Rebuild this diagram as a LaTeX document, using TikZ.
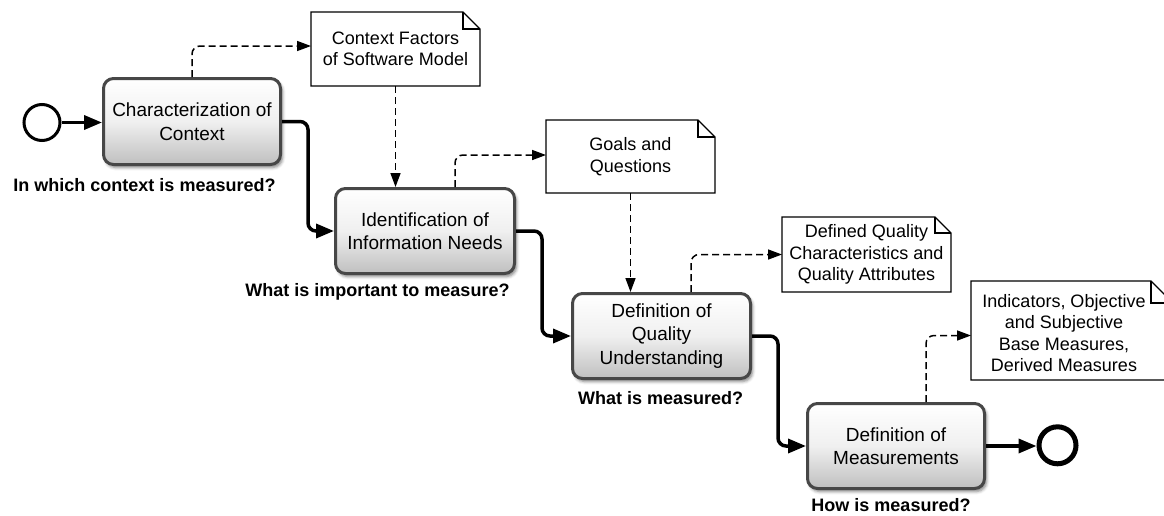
\documentclass[tikz,border=0pt]{standalone}
\usepackage{fontspec}
\setmainfont{Liberation Sans}
\usetikzlibrary{arrows.meta,shadows.blur}

\begin{document}
\begin{tikzpicture}[x=1pt,y=-1pt,
  task/.style={draw=black!72, line width=3pt, rounded corners=10pt,
    top color=white, bottom color=black!25, middle color=white!94!black,
    inner sep=2pt, align=center, text=black,
    font=\fontsize{19}{23.5}\selectfont,
    blur shadow={shadow xshift=2pt, shadow yshift=-3pt,
      shadow blur radius=3pt, shadow opacity=50}},
  note/.style={fill=white, inner sep=0pt, outer sep=0pt, align=center,
    font=\fontsize{18}{21.5}\selectfont},
  notetext/.style={inner sep=0pt, align=center, font=\fontsize{18}{21.5}\selectfont},
  noteline/.style={line width=1.2pt, line join=miter},
  startev/.style={circle, draw, line width=3pt, minimum size=36pt, inner sep=0pt, fill=white},
  endev/.style={circle, draw, line width=5pt, minimum size=37pt, inner sep=0pt, fill=white},
  qlabel/.style={inner sep=0pt, font=\fontsize{18}{21}\selectfont\bfseries},
  flow/.style={line width=3.5pt, rounded corners=8pt,
    -{Triangle[length=18pt,width=14pt]}},
  dep/.style={line width=1.5pt, dash pattern=on 7pt off 4pt, rounded corners=8pt,
    -{Triangle[length=14pt,width=10pt]}}
]
\clip (0,0) rectangle (1164,515);

% events
\node[startev] (s) at (42,122.5) {};
\node[endev] (e) at (1057.5,445.3) {};

% tasks
\node[task, minimum width=177pt, minimum height=86pt] (b1) at (192,121.5)
  {Characterization of\\Context};
\node[task, minimum width=179pt, minimum height=85pt] (b2) at (425,231)
  {Identification of\\Information Needs};
\node[task, minimum width=178pt, minimum height=85pt] (b3) at (661.5,336)
  {Definition of\\Quality\\Understanding};
\node[task, minimum width=177pt, minimum height=85pt] (b4) at (896,446)
  {Definition of\\Measurements};

% questions under the tasks
\node[qlabel] (q1) at (144.5,185) {In which context is measured?};
\node[qlabel] (q2) at (377.5,291.5) {What is important to measure?};
\node[qlabel] (q3) at (660.7,398) {What is measured?};
\node[qlabel] (q4) at (891,505) {How is measured?};

% artifacts (notes with folded corner)
\node[note, minimum width=169pt, minimum height=74pt] (n1) at (395.5,49)
  {Context Factors\\of Software Model};
\node[note, minimum width=169pt, minimum height=73pt] (n2) at (630.5,156.5)
  {Goals and\\Questions};
\node[note, minimum width=169pt, minimum height=75pt] (n3) at (866.5,254.5)
  {Defined Quality\\Characteristics and\\Quality Attributes};
\node[note, minimum width=202pt, minimum height=99pt] (n4) at (1072,330.5) {};
\node[notetext] (n4t) at (1064,333)
  {Indicators, Objective\\and Subjective\\Base Measures,\\Derived Measures};

\foreach \n/\f in {n1/17,n2/17,n3/16,n4/22} {
  \draw[noteline] (\n.north west) -- ([xshift=-\f pt]\n.north east)
    -- ([yshift=-\f pt]\n.north east) -- (\n.south east) -- (\n.south west) -- cycle;
  \draw[noteline] ([xshift=-\f pt]\n.north east) |- ([yshift=-\f pt]\n.north east);
}

% sequence flow
\draw[flow] (s.east) -- (s.east -| b1.west);
\draw[flow] (b1.east) -- ++(26,0) |- (b2.west);
\draw[flow] (b2.east) -- ++(26,0) |- (b3.west);
\draw[flow] (b3.east) -- ++(26,0) |- (b4.west);
\draw[flow] (b4.east) -- (b4.east -| e.west);

% data associations
\draw[dep] (b1.north) |- ([yshift=3pt]n1.west);
\draw[dep] ([xshift=30pt]b2.north) |- ([yshift=1.5pt]n2.west);
\draw[dep] ([xshift=29.5pt]b3.north) |- (n3.west);
\draw[dep] ([xshift=30pt]b4.north) |- ([yshift=-5pt]n4.west);
\draw[dep] (n1.south) -- (n1.south |- b2.north);
\draw[dep] (n2.south) -- (n2.south |- b3.north);
\end{tikzpicture}
\end{document}
